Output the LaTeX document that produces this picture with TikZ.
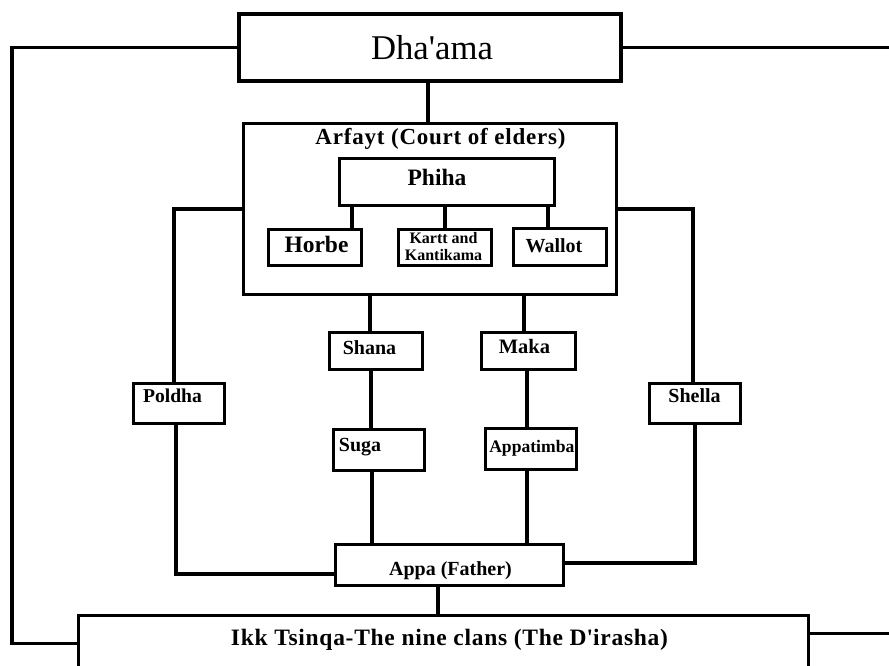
\documentclass[tikz,border=0pt]{standalone}
\usepackage{fontspec}
\setmainfont{Liberation Serif}
\usetikzlibrary{calc}
\tikzset{
  box/.style={draw=black, line width=3.8pt, fill=white, inner sep=0pt, rectangle},
  conn/.style={draw=black, line width=3.6pt},
  txt/.style={inner sep=0pt, anchor=base, text=black},
  bf/.style={font=\fontsize{#1}{#1}\selectfont\bfseries},
  bfls/.style 2 args={font=\fontsize{#1}{#1}\selectfont\bfseries\addfontfeature{LetterSpace=#2}}
}
\begin{document}
\begin{tikzpicture}[x=1pt,y=-1pt]
\fill[white] (0,0) rectangle (889,665);
\useasboundingbox (0,0) rectangle (889,665);
\clip (0,0) rectangle (889,665);

% boxes
\node[box, minimum width=382pt, minimum height=67pt] (dhaama) at (430,47.5) {};
\node[box, minimum width=373pt, minimum height=171pt] (arfayt) at (430,209) {};
\node[box, minimum width=215pt, minimum height=47pt] (phiha) at (447,182) {};
\node[box, minimum width=93pt, minimum height=36pt] (horbe) at (315,247.5) {};
\node[box, minimum width=93pt, minimum height=36pt] (kartt) at (445,247.5) {};
\node[box, minimum width=93pt, minimum height=37pt] (wallot) at (560,247) {};
\node[box, minimum width=93pt, minimum height=37pt] (shana) at (376,351) {};
\node[box, minimum width=94pt, minimum height=37pt] (maka) at (528.5,351) {};
\node[box, minimum width=91pt, minimum height=41pt] (suga) at (379,450) {};
\node[box, minimum width=91pt, minimum height=41pt] (appatimba) at (531,449) {};
\node[box, minimum width=91pt, minimum height=40pt] (poldha) at (179,403.5) {};
\node[box, minimum width=91pt, minimum height=40pt] (shella) at (695,403.5) {};
\node[box, minimum width=228pt, minimum height=41pt] (appa) at (449.5,565) {};
\node[box, minimum width=730pt, minimum height=56pt] (ikk) at (443.5,643.5) {};

% free ends
\coordinate (lc) at (12,47.5);
\coordinate (redge) at (889,0);

% connectors
\draw[conn] (dhaama.west) -- (lc) |- (ikk.west);
\draw[conn] (dhaama.east) -- (dhaama.east -| redge);
\draw[conn] ([yshift=10pt]ikk.east) -- ([yshift=10pt]ikk.east -| redge);
\draw[conn] (dhaama.south -| 428,0) -- (arfayt.north -| 428,0);

\draw[conn] (phiha.south -| 352,0) -- (horbe.north -| 352,0);
\draw[conn] (phiha.south -| 445,0) -- (kartt.north -| 445,0);
\draw[conn] (phiha.south -| 548,0) -- (wallot.north -| 548,0);

\draw[conn] (arfayt.south -| 370,0) -- (shana.north -| 370,0);
\draw[conn] (shana.south -| 371,0) -- (suga.north -| 371,0);
\draw[conn] (suga.south -| 372,0) -- (appa.north -| 372,0);

\draw[conn] (arfayt.south -| 524,0) -- (maka.north -| 524,0);
\draw[conn] (maka.south -| 527,0) -- (appatimba.north -| 527,0);
\draw[conn] (appatimba.south -| 527,0) -- (appa.north -| 527,0);

\draw[conn] (arfayt.west) -| (poldha.north -| 174,0);
\draw[conn] (poldha.south -| 176,0) |- ([yshift=-9pt]appa.west);
\draw[conn] (arfayt.east) -| (shella.north -| 693,0);
\draw[conn] (shella.south -| 695,0) |- ([yshift=2pt]appa.east);

\draw[conn] (appa.south -| 438,0) -- (ikk.north -| 438,0);

% texts
\node[txt, font=\fontsize{34.7}{40}\selectfont] (t-dhaama) at (432,59) {Dha\textquotesingle ama};
\node[txt, bfls={23}{3.4}] (t-arfayt) at (440.5,144) {Arfayt (Court of elders)};
\node[txt, bf=23.5] (t-phiha) at (437,185.5) {Phiha};
\node[txt, bf=23.5] (t-horbe) at (316.5,252) {Horbe};
\node[txt, font=\fontsize{16}{17.5}\selectfont\bfseries, align=center, anchor=center] (t-kartt) at (443.5,246.5) {Kartt and\\Kantikama};
\node[txt, bf=20] (t-wallot) at (554,252.5) {Wallot};
\node[txt, bf=20] (t-shana) at (369.5,354.3) {Shana};
\node[txt, bf=20.5] (t-maka) at (524.5,353.7) {Maka};
\node[txt, bf=19.6] (t-poldha) at (172.5,402.7) {Poldha};
\node[txt, bf=20] (t-shella) at (694.5,402.7) {Shella};
\node[txt, bf=20] (t-suga) at (360,451.7) {Suga};
\node[txt, bf=17.6] (t-appatimba) at (531.8,452.3) {Appatimba};
\node[txt, bf=20] (t-appa) at (450.5,575) {Appa (Father)};
\node[txt, bfls={23.5}{3.1}] (t-ikk) at (449.5,645) {Ikk Tsinqa-The nine clans (The D\textquotesingle irasha)};
\end{tikzpicture}
\end{document}
